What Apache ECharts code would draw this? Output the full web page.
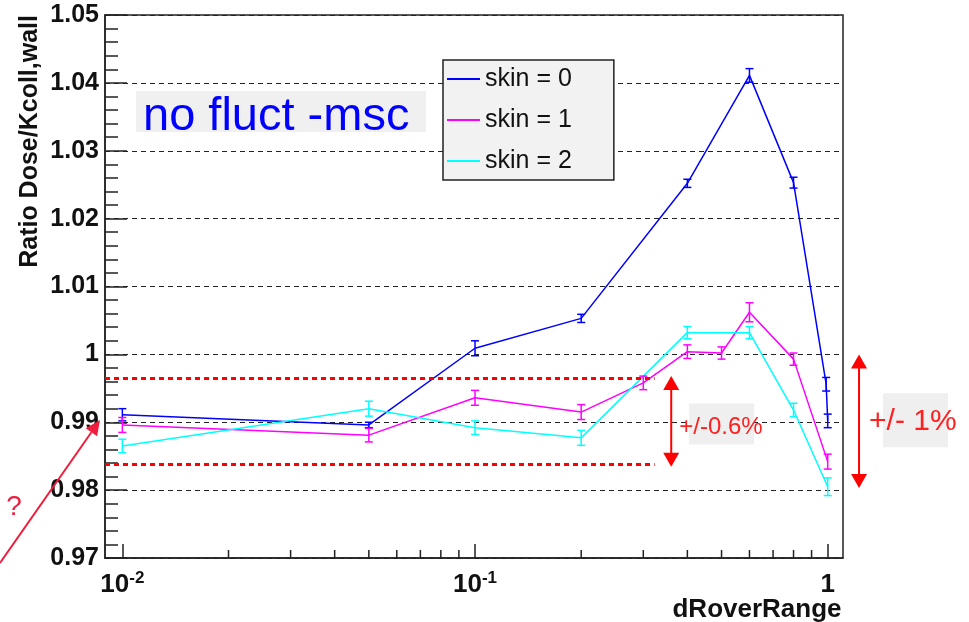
<!DOCTYPE html>
<html><head><meta charset="utf-8">
<script src="https://cdn.jsdelivr.net/npm/echarts@6/dist/echarts.min.js"></script>
<style>html,body{margin:0;padding:0;background:#fff}#c{width:969px;height:622px}</style>
</head><body><div id="c"></div>
<script>
// ---- data ----
const seriesNames = ['skin = 0', 'skin = 1', 'skin = 2'];
const xSkin0 = [0.01, 0.05, 0.1, 0.2, 0.4, 0.6, 0.8, 0.99, 1.0];
const ySkin0 = [0.9911, 0.9896, 1.0009, 1.0053, 1.0252, 1.0411, 1.0253, 0.9956, 0.9902];
const eSkin0 = [0.0009, 0.0004, 0.0011, 0.0006, 0.0006, 0.0010, 0.0008, 0.0010, 0.0010];
const xSkin1 = [0.01, 0.05, 0.1, 0.2, 0.3, 0.4, 0.5, 0.6, 0.8, 1.0];
const ySkin1 = [0.9896, 0.9881, 0.9936, 0.9915, 0.9958, 1.0004, 1.0002, 1.0062, 0.9993, 0.9842];
const eSkin1 = [0.0011, 0.0010, 0.0011, 0.0011, 0.0010, 0.0010, 0.0009, 0.0014, 0.0009, 0.0011];
const xSkin2 = [0.01, 0.05, 0.1, 0.2, 0.4, 0.6, 0.8, 1.0];
const ySkin2 = [0.9865, 0.9920, 0.9892, 0.9877, 1.0032, 1.0032, 0.9918, 0.9805];
const eSkin2 = [0.0010, 0.0011, 0.0010, 0.0011, 0.0009, 0.0009, 0.0010, 0.0013];
const xMinorTicks = [0.02, 0.03, 0.04, 0.05, 0.06, 0.07, 0.08, 0.09, 0.2, 0.3, 0.4, 0.5, 0.6, 0.7, 0.8, 0.9];
const xMin = 0.00893, xMax = 1.105;
const yMin = 0.97, yMax = 1.05, yStep = 0.01;
// annotation values (data units)
const bandY = [0.99645, 0.98377];
const bandXEnd = 0.323;
const arrowSmallX = 0.36, arrowSmallY = [0.9968, 0.98345];
const arrowLargeX = 1.227, arrowLargeY = [1.0, 0.9803];
const labelText = 'no fluct -msc';
const smallLabel = '+/-0.6%';
const largeLabel = '+/- 1%';

const colors = ['#0000ff', '#ff00ff', '#00ffff'];
const FONT = '"Liberation Sans", Arial, Helvetica, sans-serif';
const xs = [xSkin0, xSkin1, xSkin2], ys = [ySkin0, ySkin1, ySkin2], es = [eSkin0, eSkin1, eSkin2];

function errRender(color) {
  return function (params, api) {
    const x = api.value(0), lo = api.value(1), hi = api.value(2);
    const a = api.coord([x, lo]), b = api.coord([x, hi]);
    const w = 4;
    const st = { stroke: color, lineWidth: 1.5 };
    return { type: 'group', children: [
      { type: 'line', shape: { x1: a[0], y1: a[1], x2: b[0], y2: b[1] }, style: st },
      { type: 'line', shape: { x1: a[0] - w, y1: a[1], x2: a[0] + w, y2: a[1] }, style: st },
      { type: 'line', shape: { x1: b[0] - w, y1: b[1], x2: b[0] + w, y2: b[1] }, style: st }
    ]};
  };
}

const series = [];
for (let k = 0; k < 3; k++) {
  series.push({
    name: seriesNames[k], type: 'line', symbol: 'none', z: 4,
    data: xs[k].map((x, i) => [x, ys[k][i]]),
    itemStyle: { color: colors[k] },
    lineStyle: { color: colors[k], width: 1.5 }
  });
}
for (let k = 0; k < 3; k++) {
  series.push({
    name: 'err' + k, type: 'custom', z: 5, silent: true,
    renderItem: errRender(colors[k]),
    encode: { x: 0, y: [1, 2] },
    data: xs[k].map((x, i) => [x, ys[k][i] - es[k][i], ys[k][i] + es[k][i]])
  });
}
series.push({
  name: 'minorTicks', type: 'custom', silent: true, z: 3,
  encode: { x: 0, y: 1 },
  data: xMinorTicks.map(v => [v, yMin]),
  renderItem: function (params, api) {
    const p = api.coord([api.value(0), api.value(1)]);
    return { type: 'line', shape: { x1: p[0], y1: p[1], x2: p[0], y2: p[1] - 8 }, style: { stroke: '#222', lineWidth: 1.5 } };
  }
});

const chart = echarts.init(document.getElementById('c'), null, { renderer: 'canvas' });
const option = {
  animation: false,
  backgroundColor: '#ffffff',
  textStyle: { fontFamily: FONT },
  grid: { left: 105, right: 126, top: 15, bottom: 64, show: true, borderColor: '#222', borderWidth: 1.5, backgroundColor: '#fff',
          containLabel: false, outerBoundsMode: 'none' },
  legend: {
    data: seriesNames, orient: 'vertical', left: 443, top: 60,
    backgroundColor: '#f2f2f2', borderColor: '#222', borderWidth: 1.5,
    padding: [4, 42, 4, 4], itemGap: 11, itemWidth: 33, itemHeight: 2, icon: 'rect',
    textStyle: { fontSize: 25, color: '#111', fontFamily: FONT, lineHeight: 30 }
  },
  xAxis: {
    type: 'log', logBase: 10, min: xMin, max: xMax,
    name: 'dRoverRange', nameLocation: 'middle', nameGap: 39, nameMoveOverlap: false,
    nameTextStyle: { fontSize: 26, fontWeight: 'bold', color: '#111', padding: [0, 0, 0, 566], fontFamily: FONT },
    axisLine: { show: true, lineStyle: { color: '#222', width: 1.5 } },
    axisTick: { show: true, inside: true, length: 14, lineStyle: { color: '#222', width: 1.5 } },
    minorTick: { show: false },
    splitLine: { show: false },
    axisLabel: {
      margin: 12, showMinLabel: false, showMaxLabel: false,
      formatter: function (v) {
        const l = Math.log10(v), r = Math.round(l);
        if (Math.abs(l - r) > 1e-6) return '';
        if (r === 0) return '{b|1}';
        return '{b|10}{s|' + r + '}';
      },
      rich: {
        b: { fontSize: 26, fontWeight: 'bold', color: '#111', fontFamily: FONT, lineHeight: 28, verticalAlign: 'bottom' },
        s: { fontSize: 17, fontWeight: 'bold', color: '#111', fontFamily: FONT, lineHeight: 18, verticalAlign: 'top' }
      }
    }
  },
  yAxis: {
    type: 'value', min: yMin, max: yMax, interval: yStep,
    name: 'Ratio Dose/Kcoll,wall', nameLocation: 'end', nameRotate: 90, nameGap: 0,
    nameTextStyle: { fontSize: 25, fontWeight: 'bold', color: '#111', align: 'right', verticalAlign: 'bottom', padding: [0, 0, 62, 0], fontFamily: FONT },
    axisLine: { show: true, lineStyle: { color: '#222', width: 1.5 } },
    axisTick: { show: true, inside: true, length: 22, lineStyle: { color: '#222', width: 1.5 } },
    minorTick: { show: true, splitNumber: 5, length: 13, lineStyle: { color: '#222', width: 1.5 } },
    splitLine: { show: true, lineStyle: { color: '#222', width: 1, type: [5, 4] } },
    axisLabel: { margin: 6, fontSize: 25, fontWeight: 'bold', color: '#111', fontFamily: FONT }
  },
  series: series
};
chart.setOption(option);

// ---- annotations positioned through the chart's own scales ----
const P = (x, y) => chart.convertToPixel({ gridIndex: 0 }, [x, y]);
const RED = '#ff0000';
const g = [];
bandY.forEach(y => {
  const a = P(xMin, y), b = P(bandXEnd, y);
  g.push({ type: 'line', z: 6, shape: { x1: a[0], y1: a[1], x2: b[0], y2: b[1] }, style: { stroke: RED, lineWidth: 3, lineDash: [5, 4] } });
});
function vArrow(x, yTop, yBot, hw, hh, color) {
  return [
    { type: 'line', z: 7, shape: { x1: x, y1: yTop + hh - 1, x2: x, y2: yBot - hh + 1 }, style: { stroke: color, lineWidth: 2 } },
    { type: 'polygon', z: 7, shape: { points: [[x, yTop], [x - hw / 2, yTop + hh], [x + hw / 2, yTop + hh]] }, style: { fill: color } },
    { type: 'polygon', z: 7, shape: { points: [[x, yBot], [x - hw / 2, yBot - hh], [x + hw / 2, yBot - hh]] }, style: { fill: color } }
  ];
}
const s1 = P(arrowSmallX, arrowSmallY[0]), s2 = P(arrowSmallX, arrowSmallY[1]);
g.push(...vArrow(s1[0], s1[1], s2[1], 16, 14, RED));
const l1 = P(arrowLargeX, arrowLargeY[0]), l2 = P(arrowLargeX, arrowLargeY[1]);
g.push(...vArrow(l1[0], l1[1], l2[1], 16, 14, RED));
// label boxes
const sx = s1[0], sy = (s1[1] + s2[1]) / 2;
g.push({ type: 'rect', z: 6, shape: { x: sx + 18, y: sy - 18, width: 65, height: 41 }, style: { fill: '#efefef' } });
g.push({ type: 'text', z: 8, style: { text: smallLabel, x: sx + 8, y: sy + 6, font: 'normal 24px ' + FONT, fill: '#ff2020', align: 'left', verticalAlign: 'middle', textAlign: 'left', textVerticalAlign: 'middle' } });
const lx = l1[0], ly = (l1[1] + l2[1]) / 2;
g.push({ type: 'rect', z: 6, shape: { x: lx + 24, y: ly - 28, width: 65, height: 54 }, style: { fill: '#efefef' } });
g.push({ type: 'text', z: 8, style: { text: largeLabel, x: lx + 10, y: ly + 1, font: 'normal 30px ' + FONT, fill: '#ff2020', align: 'left', verticalAlign: 'middle', textAlign: 'left', textVerticalAlign: 'middle' } });
// "no fluct -msc" box
g.push({ type: 'rect', z: 6, shape: { x: 136, y: 91, width: 290, height: 41 }, style: { fill: '#f0f0f0' } });
g.push({ type: 'text', z: 8, style: { text: labelText, x: 143, y: 117, font: 'normal 47px ' + FONT, fill: '#0000ff', align: 'left', verticalAlign: 'middle', textAlign: 'left', textVerticalAlign: 'middle' } });
// question arrow on the left
const QC = '#ee1d3d';
const tip = [100, 420], tail = [0, 563];
const dx = tip[0] - tail[0], dy = tip[1] - tail[1], len = Math.hypot(dx, dy);
const ux = dx / len, uy = dy / len, hl = 15, hw = 7;
const bx = tip[0] - ux * hl, by = tip[1] - uy * hl;
g.push({ type: 'line', z: 7, shape: { x1: tail[0], y1: tail[1], x2: bx, y2: by }, style: { stroke: QC, lineWidth: 2 } });
g.push({ type: 'polygon', z: 7, shape: { points: [tip, [bx - uy * hw, by + ux * hw], [bx + uy * hw, by - ux * hw]] }, style: { fill: QC } });
g.push({ type: 'text', z: 8, style: { text: '?', x: 14, y: 507, font: 'normal 28px ' + FONT, fill: QC, align: 'center', verticalAlign: 'middle', textAlign: 'center', textVerticalAlign: 'middle' } });
chart.setOption({ graphic: g });
</script></body></html>
